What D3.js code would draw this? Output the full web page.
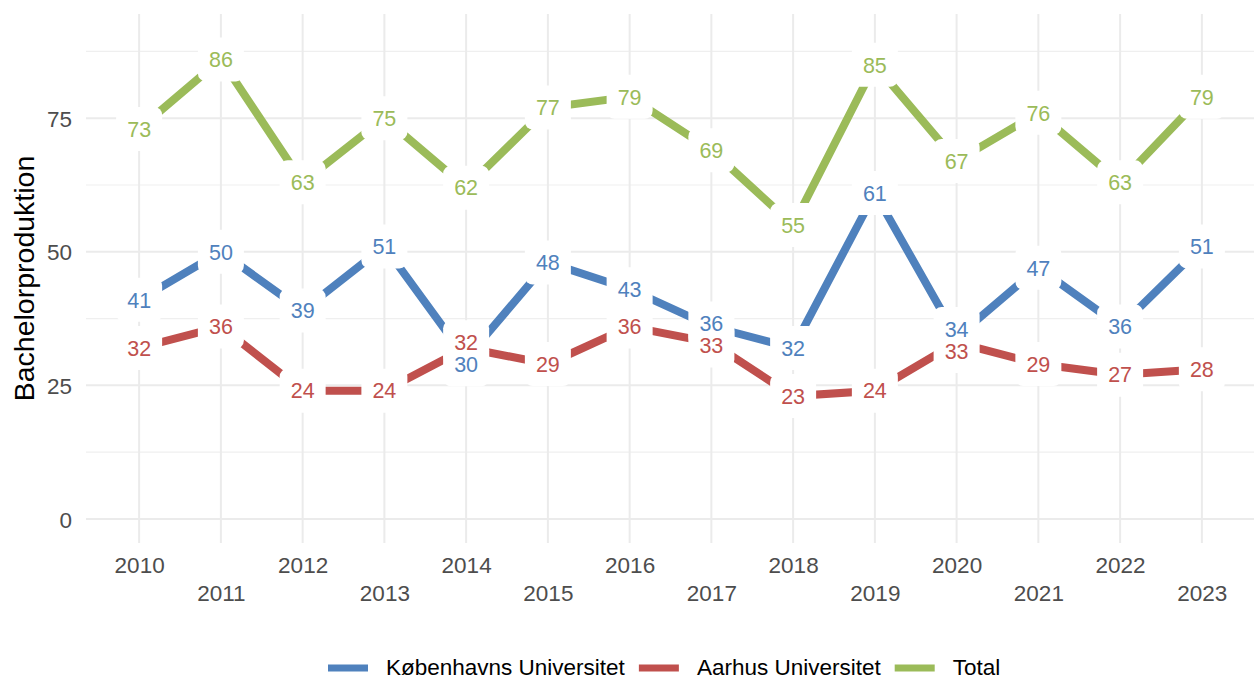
<!DOCTYPE html>
<html>
<head>
<meta charset="utf-8">
<script src="https://cdn.jsdelivr.net/npm/d3@7"></script>
<style>
    html, body { margin: 0; padding: 0; background: #ffffff; }
    svg { display: block; font-family: "Liberation Sans", Arial, sans-serif; }
</style>
</head>
<body>
<div class="chartCanvas"></div>
<script>
// data
const years = [2010, 2011, 2012, 2013, 2014, 2015, 2016, 2017, 2018, 2019, 2020, 2021, 2022, 2023];
const koebenhavn = [41, 50, 39, 51, 30, 48, 43, 36, 32, 61, 34, 47, 36, 51];
const aarhus = [32, 36, 24, 24, 32, 29, 36, 33, 23, 24, 33, 29, 27, 28];
const total = [73, 86, 63, 75, 62, 77, 79, 69, 55, 85, 67, 76, 63, 79];
const seriesNames = ["Københavns Universitet", "Aarhus Universitet", "Total"];
const seriesColors = ["#4f81bd", "#c0504d", "#9bbb59"];
const yMajorTicks = [0, 25, 50, 75];
const yMinorTicks = [12.5, 37.5, 62.5, 87.5];
const yTitle = "Bachelorproduktion";

class ChartView {

    static width = 1254;
    static height = 682;
    static panel = {left: 86, right: 1255, top: 14, bottom: 543};
    static lineWidth = 8;
    static labelGap = 22;

    svg;
    x;
    y;

    constructor() {
        this.svg = d3.select(".chartCanvas")
            .append("svg")
            .attr("width", ChartView.width)
            .attr("height", ChartView.height);
        // 5% expansion like ggplot on both axes
        this.x = d3.scaleLinear().domain([2009.35, 2023.65])
            .range([ChartView.panel.left, ChartView.panel.right]);
        this.y = d3.scaleLinear().domain([-4.5, 94.5])
            .range([ChartView.panel.bottom, ChartView.panel.top]);
    }

    drawGrid() {
        const p = ChartView.panel;
        const grid = this.svg.append("g").attr("class", "grid");
        grid.selectAll(".minor").data(yMinorTicks).join("line")
            .attr("x1", p.left).attr("x2", p.right)
            .attr("y1", d => this.y(d)).attr("y2", d => this.y(d))
            .attr("stroke", "#efefef").attr("stroke-width", 1.1);
        grid.selectAll(".major").data(yMajorTicks).join("line")
            .attr("x1", p.left).attr("x2", p.right)
            .attr("y1", d => this.y(d)).attr("y2", d => this.y(d))
            .attr("stroke", "#ebebeb").attr("stroke-width", 2);
        grid.selectAll(".vert").data(years).join("line")
            .attr("x1", d => this.x(d)).attr("x2", d => this.x(d))
            .attr("y1", p.top).attr("y2", p.bottom)
            .attr("stroke", "#ebebeb").attr("stroke-width", 2);
    }

    drawAxes() {
        // y axis: tick labels only, theme_minimal style
        const yAxis = d3.axisLeft(this.y).tickValues(yMajorTicks).tickSize(0).tickPadding(0);
        const gy = this.svg.append("g")
            .attr("transform", `translate(${ChartView.panel.left - 14},0)`)
            .call(yAxis);
        gy.select(".domain").remove();
        gy.selectAll("text")
            .attr("fill", "#4d4d4d")
            .style("font-size", "22.5px")
            .attr("dy", "0.36em");

        // x axis: labels dodged on two rows
        const xAxis = d3.axisBottom(this.x).tickValues(years).tickFormat(d3.format("d")).tickSize(0).tickPadding(0);
        const gx = this.svg.append("g")
            .attr("transform", `translate(0,${ChartView.panel.bottom})`)
            .call(xAxis);
        gx.select(".domain").remove();
        gx.selectAll("text")
            .attr("fill", "#4d4d4d")
            .style("font-size", "22.5px")
            .attr("y", (d, i) => i % 2 === 0 ? 30 : 58)
            .attr("dy", 0);

        const mid = (ChartView.panel.top + ChartView.panel.bottom) / 2;
        this.svg.append("text")
            .attr("transform", `translate(34,${mid}) rotate(-90)`)
            .attr("text-anchor", "middle")
            .attr("fill", "#000000")
            .style("font-size", "28.5px")
            .text(yTitle);
    }

    drawLines(allSeries) {
        const line = d3.line()
            .x((d, i) => this.x(years[i]))
            .y(d => this.y(d));
        this.svg.append("g").attr("class", "lines")
            .selectAll("path").data(allSeries).join("path")
            .attr("d", d => line(d))
            .attr("fill", "none")
            .attr("stroke", (d, i) => seriesColors[i])
            .attr("stroke-width", ChartView.lineWidth)
            .attr("stroke-linejoin", "miter");
    }

    // simple stand-in for ggrepel: push apart labels that sit too close in the same year
    labelPositions(allSeries) {
        const labels = [];
        allSeries.forEach((values, s) => {
            values.forEach((v, i) => {
                labels.push({s: s, i: i, value: v, cx: this.x(years[i]), cy: this.y(v)});
            });
        });
        years.forEach((yr, i) => {
            const sameYear = labels.filter(l => l.i === i).sort((a, b) => a.cy - b.cy);
            for (let k = 1; k < sameYear.length; k++) {
                const a = sameYear[k - 1], b = sameYear[k];
                if (b.cy - a.cy < ChartView.labelGap) {
                    const m = (a.cy + b.cy) / 2;
                    a.cy = m - ChartView.labelGap / 2;
                    b.cy = m + ChartView.labelGap / 2;
                }
            }
        });
        return labels;
    }

    drawLabels(allSeries) {
        const labels = this.labelPositions(allSeries);
        const g = this.svg.append("g").attr("class", "labels");
        g.selectAll("rect").data(labels).join("rect")
            .attr("x", d => d.cx - 23)
            .attr("y", d => d.cy - 22)
            .attr("width", 46)
            .attr("height", 44)
            .attr("rx", 8)
            .attr("fill", "#ffffff");
        g.selectAll("text").data(labels).join("text")
            .attr("x", d => d.cx)
            .attr("y", d => d.cy)
            .attr("dy", "0.36em")
            .attr("text-anchor", "middle")
            .attr("fill", d => seriesColors[d.s])
            .style("font-size", "21.5px")
            .text(d => d.value);
    }

    drawLegend() {
        const legend = this.svg.append("g").attr("class", "legend");
        const items = legend.selectAll("g").data(seriesNames).join("g");
        items.append("line")
            .attr("x1", 0).attr("x2", 40)
            .attr("y1", 0).attr("y2", 0)
            .attr("stroke", (d, i) => seriesColors[i])
            .attr("stroke-width", 7);
        items.append("text")
            .attr("x", 58)
            .attr("dy", "0.33em")
            .attr("fill", "#000000")
            .style("font-size", "22.5px")
            .text(d => d);
        let offset = 0;
        const widths = [];
        items.each(function () {
            const w = 58 + this.querySelector("text").getComputedTextLength();
            widths.push(w);
        });
        const gap = 14;
        const start = 328;
        items.attr("transform", (d, i) => {
            const t = `translate(${start + offset},668)`;
            offset += widths[i] + gap;
            return t;
        });
    }

    static launch() {
        const view = new ChartView();
        const allSeries = [koebenhavn, aarhus, total];
        view.drawGrid();
        view.drawAxes();
        view.drawLines(allSeries);
        view.drawLabels(allSeries);
        view.drawLegend();
    }
}

ChartView.launch();
</script>
</body>
</html>
